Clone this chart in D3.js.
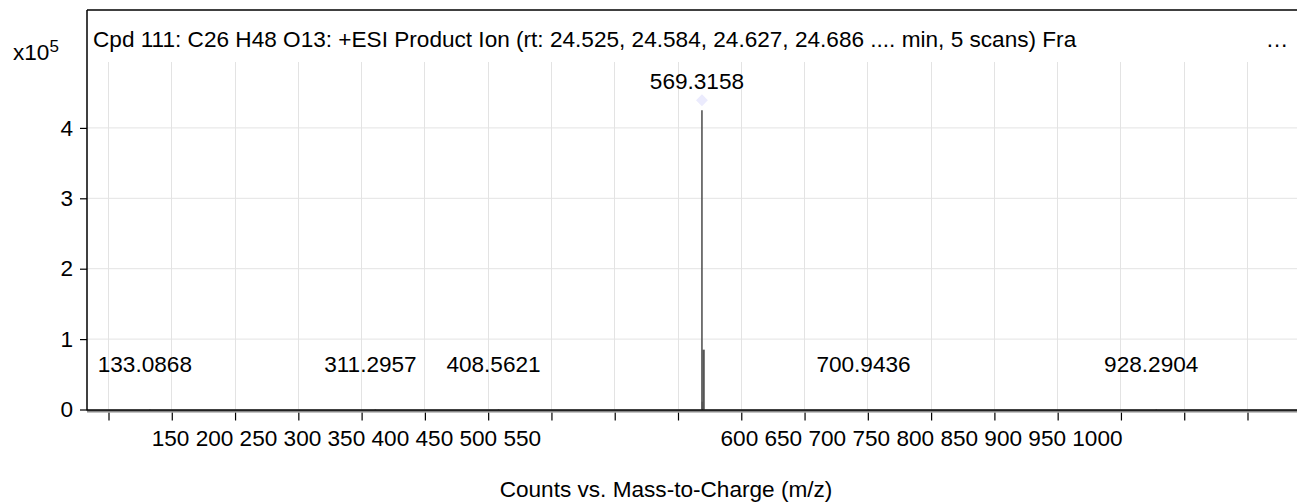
<!DOCTYPE html>
<html>
<head>
<meta charset="utf-8">
<script src="https://cdn.jsdelivr.net/npm/d3@7"></script>
<style>
  html, body { margin: 0; padding: 0; background: #fff; }
  svg { display: block; }
  text { font-family: "Liberation Sans", Arial, Helvetica, sans-serif; fill: #000; }
</style>
</head>
<body>
<svg id="chart" width="1297" height="504"></svg>
<script>
// ---------------- data ----------------
const titleText = "Cpd 111: C26 H48 O13: +ESI Product Ion (rt: 24.525, 24.584, 24.627, 24.686 .... min, 5 scans) Fra";
const xAxisTitle = "Counts vs. Mass-to-Charge (m/z)";
const xTickValues = [100,150,200,250,300,350,400,450,500,550,600,650,700,750,800,850,900,950,1000];
const xLabelsGroup1 = ["150","200","250","300","350","400","450","500","550"];
const xLabelsGroup2 = ["600","650","700","750","800","850","900","950","1000"];
const yTickValues = [0,1,2,3,4];
const yTickLabels = ["0","1","2","3","4"];
const peakMz = [133.0868, 311.2957, 408.5621, 569.3158, 569.6, 570.6, 700.9436, 928.2904];
const peakIntensity = [0.004, 0.004, 0.004, 4.25, 0.11, 0.85, 0.004, 0.004]; // x10^5 counts
const labeledMz = [133.0868, 311.2957, 408.5621, 569.3158, 700.9436, 928.2904];
const labeledText = ["133.0868","311.2957","408.5621","569.3158","700.9436","928.2904"];
const markedMz = [569.3158];

// ---------------- layout ----------------
const svg = d3.select("#chart");
const frameLeft = 87, frameTop = 10, frameRight = 1297;
const gridTop = 62;
const x = d3.scaleLinear().domain([100, 1000]).range([108, 1247]);
const y = d3.scaleLinear().domain([0, 4]).range([409.5, 127.9]);
const fs = 22.6;

// gridlines
svg.append("g").selectAll("line.vg").data(xTickValues).join("line")
  .attr("x1", d => Math.round(x(d)) + 0.5).attr("x2", d => Math.round(x(d)) + 0.5)
  .attr("y1", gridTop).attr("y2", y(0))
  .attr("stroke", "#e3e3e3").attr("stroke-width", 1);
svg.append("g").selectAll("line.hg").data(yTickValues.filter(d => d > 0)).join("line")
  .attr("x1", frameLeft).attr("x2", frameRight)
  .attr("y1", d => y(d)).attr("y2", d => y(d))
  .attr("stroke", "#e3e3e3").attr("stroke-width", 1);

// peaks
const peakIdx = d3.range(peakMz.length);
svg.append("g").selectAll("line").data(peakIdx).join("line")
  .attr("x1", i => x(peakMz[i])).attr("x2", i => x(peakMz[i]))
  .attr("y1", y(0)).attr("y2", i => y(peakIntensity[i]))
  .attr("stroke", "#555").attr("stroke-width", i => peakIntensity[i] > 0.5 && peakIntensity[i] < 1 ? 2.4 : 1.6);

// marker diamonds
svg.append("g").selectAll("path").data(markedMz).join("path")
  .attr("d", d3.symbol().type(d3.symbolDiamond2).size(90))
  .attr("transform", d => `translate(${x(d)},${y(peakIntensity[peakMz.indexOf(d)]) - 10})`)
  .attr("fill", "#ebebfd");

// peak labels
svg.append("g").selectAll("text").data(labeledMz).join("text")
  .attr("x", d => x(d) - 5)
  .attr("y", d => Math.min(y(peakIntensity[peakMz.indexOf(d)]) - 21, y(0) - 38))
  .attr("text-anchor", "middle").attr("font-size", fs)
  .text((d, i) => labeledText[i]);

// frame
svg.append("line").attr("x1", frameLeft).attr("x2", frameLeft).attr("y1", frameTop).attr("y2", y(0) + 1)
  .attr("stroke", "#000").attr("stroke-width", 1.5);
svg.append("line").attr("x1", frameLeft).attr("x2", frameRight).attr("y1", frameTop).attr("y2", frameTop)
  .attr("stroke", "#000").attr("stroke-width", 1.5);

// x axis (ticks only)
const xAxis = d3.axisBottom(x).tickValues(xTickValues).tickFormat("").tickSize(8).tickSizeOuter(0);
const gx = svg.append("g").attr("transform", `translate(0.5,${y(0) + 3})`).call(xAxis);
gx.select(".domain").remove();
gx.selectAll(".tick line").attr("stroke", "#000").attr("stroke-width", 1.2);
svg.append("line").attr("x1", frameLeft).attr("x2", frameRight).attr("y1", y(0) + 1.8).attr("y2", y(0) + 1.8)
  .attr("stroke", "#888").attr("stroke-width", 2.5);
svg.append("line").attr("x1", frameLeft).attr("x2", frameRight).attr("y1", y(0) + 0.5).attr("y2", y(0) + 0.5)
  .attr("stroke", "#000").attr("stroke-width", 1.5);

// clustered x tick labels
svg.append("text").attr("x", x(134.5)).attr("y", 445.5).attr("font-size", fs)
  .attr("xml:space", "preserve").text(xLabelsGroup1.join(" "));
svg.append("text").attr("x", x(584)).attr("y", 445.5).attr("font-size", fs)
  .attr("xml:space", "preserve").text(xLabelsGroup2.join(" "));

// y axis
const yAxis = d3.axisLeft(y).tickValues(yTickValues).tickFormat((d, i) => yTickLabels[i]).tickSize(7).tickSizeOuter(0).tickPadding(7);
const gy = svg.append("g").attr("transform", `translate(${frameLeft},0)`).call(yAxis);
gy.select(".domain").remove();
gy.selectAll(".tick line").attr("stroke", "#000").attr("stroke-width", 1.2);
gy.selectAll(".tick text").attr("font-size", fs).attr("font-family", "Liberation Sans, Arial, sans-serif").attr("fill", "#000");

// exponent label
svg.append("text").attr("x", 13).attr("y", 59.5).attr("font-size", fs).text("x10");
svg.append("text").attr("x", 49.5).attr("y", 52).attr("font-size", 17).text("5");

// title
svg.append("text").attr("x", 93).attr("y", 46.5).attr("font-size", fs).text(titleText);
svg.append("text").attr("x", 1277).attr("y", 46.5).attr("font-size", fs).attr("text-anchor", "middle").text("…");

// axis title
svg.append("text").attr("x", 666).attr("y", 497).attr("font-size", fs).attr("text-anchor", "middle").text(xAxisTitle);
</script>
</body>
</html>
